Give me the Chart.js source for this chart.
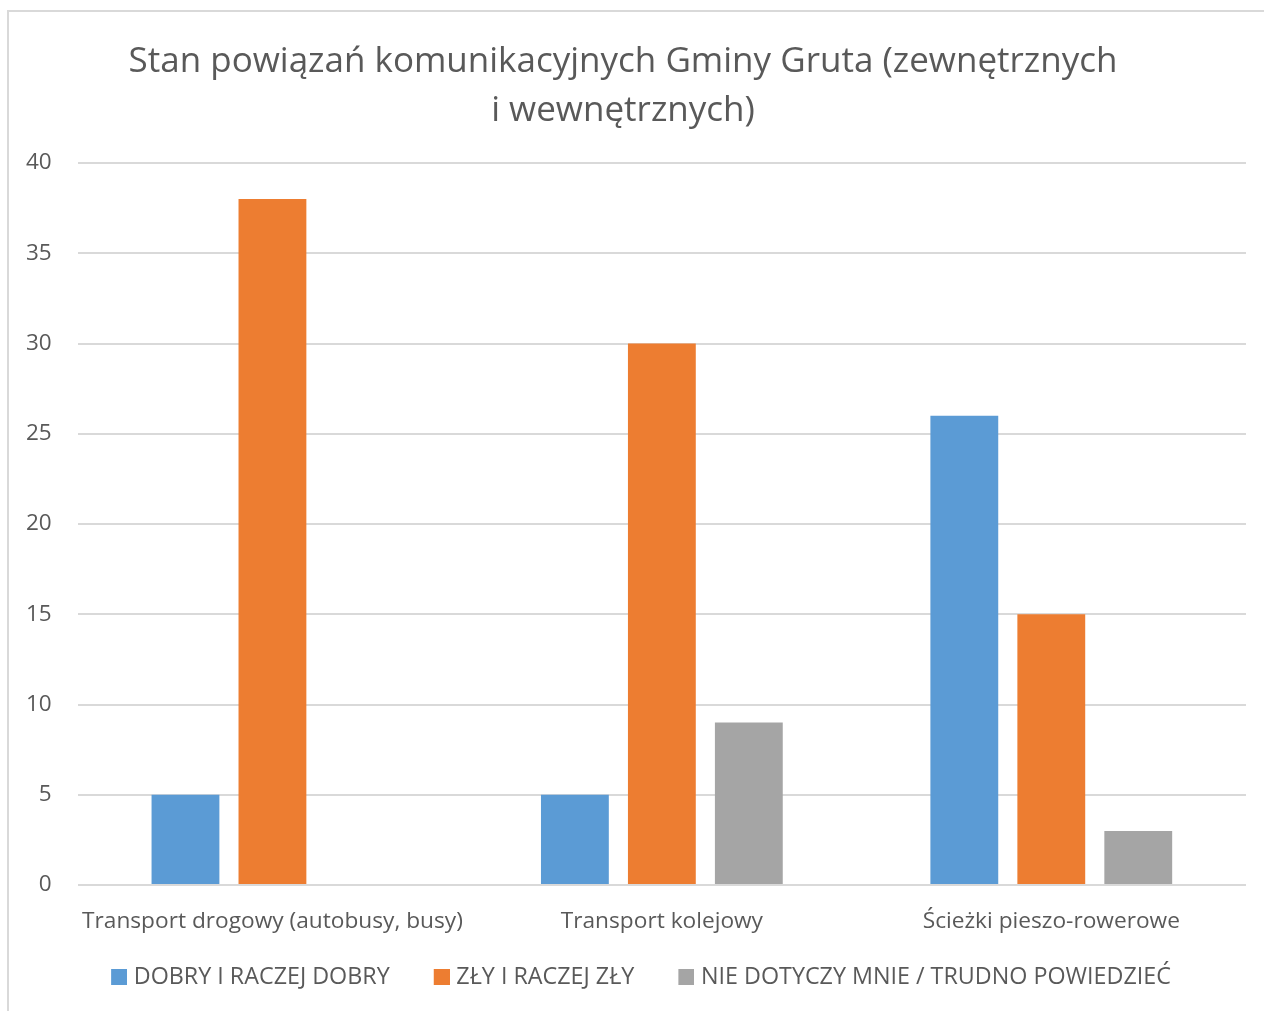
<!DOCTYPE html>
<html>
<head>
<meta charset="utf-8">
<script src="https://cdn.jsdelivr.net/npm/chart.js@4/dist/chart.umd.min.js"></script>
<style>
  body { margin: 0; background: #fff; }
  #ramka { position: absolute; left: 7px; top: 10px; width: 1300px; height: 1100px; border: 2px solid #d9d9d9; }
  #wykres { position: absolute; left: 0; top: 0; }
</style>
</head>
<body>
<div id="ramka"></div>
<canvas id="wykres" width="1264" height="1011"></canvas>
<script>
const kategorie = ["Transport drogowy (autobusy, busy)", "Transport kolejowy", "Ścieżki pieszo-rowerowe"];
const dobry = [5, 5, 26];
const zly = [38, 30, 15];
const nieDotyczy = [0, 9, 3];
const tytul = ["Stan powiązań komunikacyjnych Gminy Gruta (zewnętrznych", "i wewnętrznych)"];

const czcionka = "'Open Sans', 'Noto Sans', sans-serif";
const szary = "#595959";

const miGraf = document.querySelector("#wykres");

// kwadracik legendy z pustym miejscem po lewej (odstep miedzy pozycjami)
function kwadrat(kolor) {
  const c = document.createElement("canvas");
  c.width = 57;
  c.height = 16;
  const ctx = c.getContext("2d");
  ctx.fillStyle = kolor;
  ctx.fillRect(41, 0, 16, 16);
  return c;
}

const data = {
  labels: kategorie,
  datasets: [
    { label: "DOBRY I RACZEJ DOBRY", data: dobry, backgroundColor: "#5b9bd5" },
    { label: "ZŁY I RACZEJ ZŁY", data: zly, backgroundColor: "#ed7d31" },
    { label: "NIE DOTYCZY MNIE / TRUDNO POWIEDZIEĆ", data: nieDotyczy, backgroundColor: "#a5a5a5" },
  ],
};

const config = {
  type: "bar",
  data,
  options: {
    responsive: false,
    animation: false,
    layout: { padding: { left: 0, right: 18, top: 38, bottom: 12 } },
    datasets: {
      bar: { barPercentage: 0.78, categoryPercentage: 0.67, borderWidth: 0 },
    },
    plugins: {
      title: {
        display: true,
        text: tytul,
        color: szary,
        font: { family: czcionka, size: 35, weight: "normal", lineHeight: 1.4 },
        padding: { top: 0, bottom: 27 },
      },
      legend: {
        position: "bottom",
        labels: {
          color: szary,
          font: { family: czcionka, size: 23.3 },
          usePointStyle: true,
          pointStyleWidth: 47,
          padding: 8,
          generateLabels: (chart) => {
            const items = Chart.defaults.plugins.legend.labels.generateLabels(chart);
            items.forEach((it) => {
              it.pointStyle = kwadrat(it.fillStyle);
            });
            return items;
          },
        },
      },
      tooltip: { enabled: false },
    },
    scales: {
      x: {
        grid: { display: false, drawTicks: false },
        border: { display: false },
        ticks: {
          color: szary,
          font: { family: czcionka, size: 22.7 },
          padding: 22.7,
          maxRotation: 0,
          minRotation: 0,
          autoSkip: false,
        },
      },
      y: {
        min: 0,
        max: 40,
        ticks: { stepSize: 5, color: szary, font: { family: czcionka, size: 22.5 }, padding: 26 },
        grid: { color: "#d9d9d9", lineWidth: 2, drawTicks: false },
        border: { display: false },
      },
    },
  },
};

new Chart(miGraf, config);
</script>
</body>
</html>
